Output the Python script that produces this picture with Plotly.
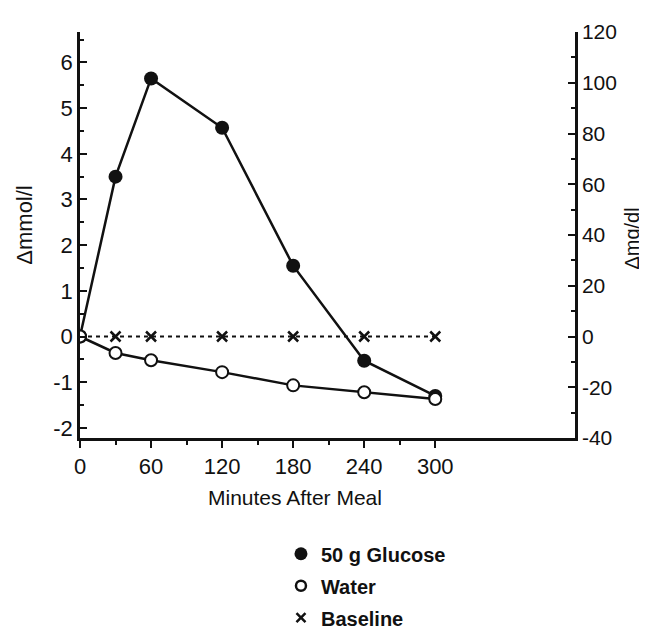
import plotly.graph_objects as go

minutes = [0, 30, 60, 120, 180, 240, 300]
glucose = [0, 3.5, 5.65, 4.57, 1.55, -0.53, -1.3]
water = [0, -0.36, -0.52, -0.78, -1.07, -1.22, -1.37]
baseline = [0, 0, 0, 0, 0, 0, 0]

x_ticks = [0, 60, 120, 180, 240, 300]
x_minor = [30, 90, 150, 210, 270]
y_ticks = [-2, -1, 0, 1, 2, 3, 4, 5, 6]
y_minor = [-1.5, -0.5, 0.5, 1.5, 2.5, 3.5, 4.5, 5.5, 6.5]
y2_ticks = [-40, -20, 0, 20, 40, 60, 80, 100, 120]
y2_minor = [-30, -10, 10, 30, 50, 70, 90, 110]

FONT = "Liberation Sans, Arial, Helvetica, sans-serif"
BLACK = "#111111"

fig = go.Figure()

fig.add_trace(go.Scatter(
    x=minutes, y=baseline, mode="lines+markers", showlegend=False,
    line=dict(color=BLACK, width=2, dash="4px,4px"),
    marker=dict(symbol="x-thin", size=10, line=dict(color=BLACK, width=2.5)),
))
fig.add_trace(go.Scatter(
    x=minutes, y=glucose, mode="lines+markers", showlegend=False,
    line=dict(color=BLACK, width=2.5),
    marker=dict(symbol="circle", size=14, color=BLACK),
))
fig.add_trace(go.Scatter(
    x=minutes, y=water, mode="lines+markers", showlegend=False,
    line=dict(color=BLACK, width=2.5),
    marker=dict(symbol="circle", size=12, color="white", line=dict(color=BLACK, width=2)),
))
# invisible trace to activate right axis
fig.add_trace(go.Scatter(x=[None], y=[None], yaxis="y2", showlegend=False, hoverinfo="skip"))

# legend entries
fig.add_trace(go.Scatter(x=[None], y=[None], mode="markers", name="50 g Glucose", legendgroup="a",
                         marker=dict(symbol="circle", size=13, color=BLACK)))
fig.add_trace(go.Scatter(x=[None], y=[None], mode="markers", name="Water", legendgroup="b",
                         marker=dict(symbol="circle", size=10, color="white", line=dict(color=BLACK, width=2.5))))
fig.add_trace(go.Scatter(x=[None], y=[None], mode="markers", name="Baseline", legendgroup="c",
                         marker=dict(symbol="x-thin", size=9, line=dict(color=BLACK, width=2.5))))

fig.update_layout(
    width=647, height=641,
    margin=dict(l=72, r=80, t=20, b=189),
    paper_bgcolor="white", plot_bgcolor="white",
    font=dict(family=FONT, size=22, color=BLACK),
    xaxis=dict(
        range=[0, 418], showgrid=False, zeroline=False,
        showline=True, linecolor=BLACK, linewidth=2.5,
        ticks="outside", ticklen=7, tickwidth=2, tickcolor=BLACK,
        tickvals=x_ticks, ticktext=[str(v) for v in x_ticks],
        minor=dict(tickvals=x_minor, ticks="outside", ticklen=4, tickwidth=2, tickcolor=BLACK),
        tickfont=dict(size=22),
    ),
    yaxis=dict(
        range=[-40 / 18, 120 / 18], showgrid=False, zeroline=False,
        showline=True, linecolor=BLACK, linewidth=2.5,
        ticks="inside", ticklen=7, tickwidth=2, tickcolor=BLACK,
        tickvals=y_ticks, ticktext=[str(v) for v in y_ticks],
        minor=dict(tickvals=y_minor, ticks="inside", ticklen=4, tickwidth=2, tickcolor=BLACK),
        tickfont=dict(size=22),
    ),
    yaxis2=dict(
        range=[-40, 120], overlaying="y", side="right", anchor="x",
        showgrid=False, zeroline=False,
        showline=True, linecolor=BLACK, linewidth=2.5,
        ticks="inside", ticklen=7, tickwidth=2, tickcolor=BLACK,
        tickvals=y2_ticks, ticktext=[str(v) for v in y2_ticks],
        minor=dict(tickvals=y2_minor, ticks="inside", ticklen=4, tickwidth=2, tickcolor=BLACK),
        tickfont=dict(size=21),
    ),
    legend=dict(
        x=0.406, xanchor="left", y=-0.237, yanchor="top",
        font=dict(family=FONT, size=20, color=BLACK, weight="bold"),
        traceorder="grouped", tracegroupgap=3, itemwidth=30,
        bgcolor="rgba(0,0,0,0)",
    ),
    annotations=[
        dict(text="Minutes After Meal", x=0.434, y=-0.146, xref="paper", yref="paper",
             xanchor="center", yanchor="middle", showarrow=False, font=dict(size=21)),
        dict(text="Δmmol/l", x=-0.111, y=0.523, xref="paper", yref="paper",
             xanchor="center", yanchor="middle", showarrow=False, textangle=-90, font=dict(size=22)),
        dict(text="Δmg/dl", x=1.115, y=0.491, xref="paper", yref="paper",
             xanchor="center", yanchor="middle", showarrow=False, textangle=-90, font=dict(size=20)),
    ],
)

fig.write_html("out.html")
